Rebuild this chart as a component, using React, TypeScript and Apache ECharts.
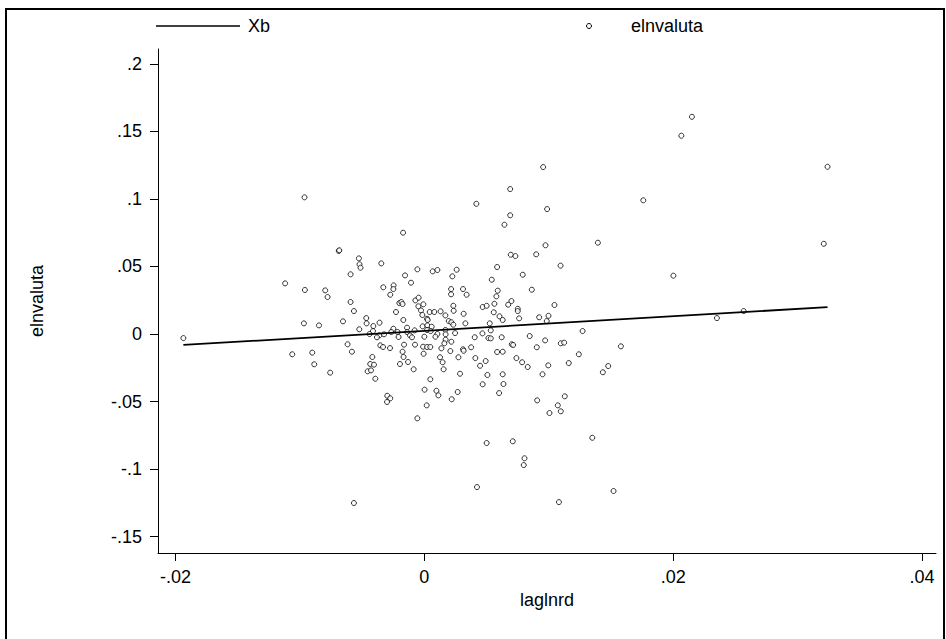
import React, { useEffect, useRef } from 'react';
import * as echarts from 'echarts';

// laglnrd (x) and elnvaluta (y)
const laglnrd = [
  -0.01119, -0.0096, -0.00797, -0.00778, -0.00968, -0.00847, -0.01937, -0.00171, -0.00688, -0.00684,
  -0.00526, -0.00521, -0.00513, -0.00346, -0.00593, -0.00155, -0.00056, 0.00067, 0.00105, -0.00107,
  -0.0033, -0.00247, -0.00249, -0.00274, -0.00593, -0.00201, -0.00185, -0.00175, -0.00072, -0.00046,
  -0.00566, -0.00228, -0.00048, -0.00008, -0.00027, 0.00043, 0.0008, 0.00131, 0.00169, -0.00654,
  -0.00467, -0.00464, -0.0036, -0.00169, -0.00016, 0.00022, 0.00027, 0.00196, -0.00523, -0.0041,
  -0.00413, -0.00249, -0.00139, -0.00014, 0.00024, 0.00059, -0.0044, -0.00362, -0.00324, -0.00266,
  -0.00215, -0.00139, -0.00078, 0.00022, 0.00051, 0.00105, 0.00169, -0.00381, -0.00207, -0.00115,
  -0.00099, 0.0, 0.00089, 0.00171, 0.00171, 0.00161, -0.00617, -0.00354, -0.00332, -0.00276,
  -0.00163, -0.00075, -0.0001, 0.00022, 0.00048, 0.00137, 0.00974, 0.00695, 0.00732, 0.00899,
  0.01095, 0.00585, 0.0026, 0.00225, 0.00791, 0.00542, 0.00215, 0.00215, 0.00311, 0.0034,
  0.0059, 0.00579, 0.00864, 0.007, 0.00674, 0.00563, 0.00469, 0.00501, 0.01046, 0.00751,
  0.00751, 0.00558, 0.00233, 0.00236, 0.00316, 0.00604, 0.0063, 0.00762, 0.00923, 0.00998,
  0.00984, 0.00217, 0.00233, 0.0033, 0.00526, 0.00534, 0.00467, 0.00247, 0.00405, 0.00515,
  0.00534, 0.00622, 0.00847, 0.00971, 0.01097, 0.01124, 0.00217, 0.00311, 0.00376, 0.00703,
  0.00714, 0.00904, 0.01395, 0.02002, 0.01272, 0.0158, -0.01062, -0.00901, -0.00885, -0.00757,
  -0.00582, -0.00418, -0.00435, -0.00405, -0.00456, -0.00429, -0.00394, -0.00175, -0.00167, -0.00131,
  -0.00196, -0.00086, -0.00006, 0.00126, 0.00147, 0.00155, 0.00209, 0.00274, 0.00287, 0.00316,
  0.0041, 0.00448, 0.00493, 0.00507, 0.00469, 0.00048, 0.00002, 0.00097, 0.00113, 0.00268,
  0.0022, -0.00298, -0.00274, -0.003, 0.00019, -0.00056, 0.00501, 0.00585, 0.0063, 0.0074,
  0.00786, 0.00831, 0.00996, 0.01242, 0.01161, 0.01478, 0.01435, 0.0063, 0.0095, 0.00636,
  0.00601, 0.00907, 0.01129, 0.01073, 0.01097, 0.01006, 0.00711, 0.0135, 0.00805, 0.00799,
  -0.00963, 0.00418, 0.0069, 0.00955, 0.00987, 0.0069, 0.00644, 0.0176, 0.02151, 0.02066,
  0.03241, 0.03211, 0.02352, 0.02567, -0.00566, 0.00423, 0.01082, 0.01521,
];
const elnvaluta = [
  0.0375, 0.0326, 0.0323, 0.0274, 0.0079, 0.0064, -0.003, 0.075, 0.0615, 0.062,
  0.056, 0.0516, 0.0491, 0.0523, 0.0442, 0.0434, 0.0479, 0.0464, 0.0474, 0.038,
  0.0346, 0.036, 0.0333, 0.0291, 0.0237, 0.0229, 0.0237, 0.0222, 0.0249, 0.0269,
  0.017, 0.0163, 0.0205, 0.022, 0.0175, 0.0163, 0.0163, 0.0168, 0.0138, 0.0094,
  0.0118, 0.0079, 0.0084, 0.0104, 0.0141, 0.0113, 0.0104, 0.0096, 0.0035, 0.0059,
  0.0022, 0.0039, 0.0047, 0.0057, 0.0064, 0.0054, 0.0, -0.001, -0.0002, 0.0015,
  0.0015, 0.0015, 0.0027, 0.003, 0.0022, 0.0, 0.003, -0.0024, -0.0022, -0.001,
  -0.0024, -0.002, -0.002, -0.0002, -0.0042, -0.0069, -0.0076, -0.0084, -0.0096, -0.0104,
  -0.0079, -0.0079, -0.0094, -0.0096, -0.0096, -0.0106, 0.0657, 0.0587, 0.0577, 0.059,
  0.0506, 0.0496, 0.0476, 0.0427, 0.0439, 0.0402, 0.0333, 0.0294, 0.0333, 0.0291,
  0.0321, 0.0279, 0.0328, 0.0244, 0.0217, 0.0224, 0.02, 0.0209, 0.0215, 0.0187,
  0.017, 0.0161, 0.0209, 0.0172, 0.015, 0.0131, 0.0104, 0.0116, 0.0124, 0.0135,
  0.0096, 0.0087, 0.0069, 0.0079, 0.0079, 0.0027, 0.0005, 0.0007, -0.0024, -0.003,
  -0.0032, -0.0024, -0.0015, -0.0047, -0.0069, -0.0064, -0.0057, -0.0113, -0.0098, -0.0076,
  -0.0081, -0.0098, 0.0676, 0.0432, 0.0022, -0.0091, -0.015, -0.0138, -0.0224, -0.0286,
  -0.0131, -0.017, -0.0222, -0.0227, -0.0276, -0.0269, -0.0331, -0.0131, -0.017, -0.0207,
  -0.0222, -0.0261, -0.0146, -0.0172, -0.0209, -0.0261, -0.0126, -0.0172, -0.0294, -0.0124,
  -0.0178, -0.0235, -0.02, -0.0303, -0.0372, -0.0335, -0.0412, -0.042, -0.0454, -0.0429,
  -0.0483, -0.0457, -0.0476, -0.0503, -0.0528, -0.0624, -0.0807, -0.0133, -0.0131, -0.0178,
  -0.0209, -0.0244, -0.0232, -0.015, -0.0215, -0.0237, -0.0283, -0.0298, -0.0298, -0.037,
  -0.0437, -0.0491, -0.0461, -0.0528, -0.0572, -0.0585, -0.0794, -0.0768, -0.092, -0.097,
  0.1012, 0.0964, 0.1073, 0.1236, 0.0925, 0.0879, 0.0809, 0.099, 0.1608, 0.1468,
  0.1238, 0.0668, 0.0118, 0.017, -0.1251, -0.1133, -0.1244, -0.1162,
];
// fitted values Xb (end points of the straight line)
const xbX = [-0.01937, 0.03241];
const xbY = [-0.0081, 0.0199];

const xTicks = [-0.02, 0, 0.02, 0.04];
const yTicks = [-0.15, -0.1, -0.05, 0, 0.05, 0.1, 0.15, 0.2];

const FONT = '"Liberation Sans", Arial, Helvetica, sans-serif';

const fmt = (v: number) => {
  if (Math.abs(v) < 1e-9) return '0';
  const s = String(+v.toFixed(3));
  return s.replace('0.', '.');
};

export default function App() {
  const ref = useRef<HTMLDivElement>(null);
  useEffect(() => {
    if (!ref.current) return;
    const chart = echarts.init(ref.current, null, { renderer: 'svg' });
    const pts = laglnrd.map((x, i) => [x, elnvaluta[i]]);
    const line = xbX.map((x, i) => [x, xbY[i]]);
    chart.setOption({
      animation: false,
      backgroundColor: '#fff',
      textStyle: { fontFamily: FONT },
      grid: { left: 158, right: 10, top: 49, bottom: 86, containLabel: false },
      xAxis: {
        type: 'value',
        min: -0.02141,
        max: 0.04113,
        name: 'laglnrd',
        nameLocation: 'middle',
        nameGap: 36,
        nameTextStyle: { fontSize: 18, color: '#000', fontFamily: FONT },
        axisLine: { show: true, onZero: false, lineStyle: { color: '#000', width: 1 } },
        axisTick: { show: true, customValues: xTicks, length: 8, lineStyle: { color: '#000' } },
        axisLabel: { customValues: xTicks, formatter: fmt, fontSize: 18, color: '#000', margin: 15, fontFamily: FONT },
        splitLine: { show: false },
      },
      yAxis: {
        type: 'value',
        min: -0.1621,
        max: 0.211,
        name: 'elnvaluta',
        nameLocation: 'middle',
        nameRotate: 90,
        nameGap: 112,
        nameTextStyle: { fontSize: 18, color: '#000', fontFamily: FONT },
        axisLine: { show: true, onZero: false, lineStyle: { color: '#000', width: 1 } },
        axisTick: { show: true, customValues: yTicks, length: 8, lineStyle: { color: '#000' } },
        axisLabel: { customValues: yTicks, formatter: fmt, fontSize: 18, color: '#000', margin: 16, fontFamily: FONT },
        splitLine: { show: false },
      },
      series: [
        {
          name: 'Xb',
          type: 'line',
          data: line,
          symbol: 'none',
          lineStyle: { color: '#000', width: 1.8 },
          z: 3,
        },
        {
          name: 'elnvaluta',
          type: 'scatter',
          data: pts,
          symbol: 'circle',
          symbolSize: 5,
          itemStyle: { color: '#fff', borderColor: '#000', borderWidth: 1 },
          z: 2,
        },
      ],
      graphic: [
        {
          type: 'rect',
          shape: { x: 6, y: 9, width: 938, height: 640 },
          style: { fill: 'none', stroke: '#000', lineWidth: 2 },
          silent: true,
        },
        {
          type: 'line',
          shape: { x1: 156, y1: 26, x2: 240, y2: 26 },
          style: { stroke: '#000', lineWidth: 1.5 },
        },
        {
          type: 'text',
          x: 248,
          y: 26,
          style: { text: 'Xb', fontSize: 18, fill: '#000', fontFamily: FONT, verticalAlign: 'middle' },
        },
        {
          type: 'circle',
          shape: { cx: 589, cy: 26, r: 2.5 },
          style: { fill: '#fff', stroke: '#000', lineWidth: 1 },
        },
        {
          type: 'text',
          x: 631,
          y: 26,
          style: { text: 'elnvaluta', fontSize: 18, fill: '#000', fontFamily: FONT, verticalAlign: 'middle' },
        },
      ],
    });
    return () => chart.dispose();
  }, []);
  return (
    <div
      ref={ref}
      style={{ position: 'fixed', left: 0, top: 0, width: 946, height: 639, background: '#fff' }}
    />
  );
}
